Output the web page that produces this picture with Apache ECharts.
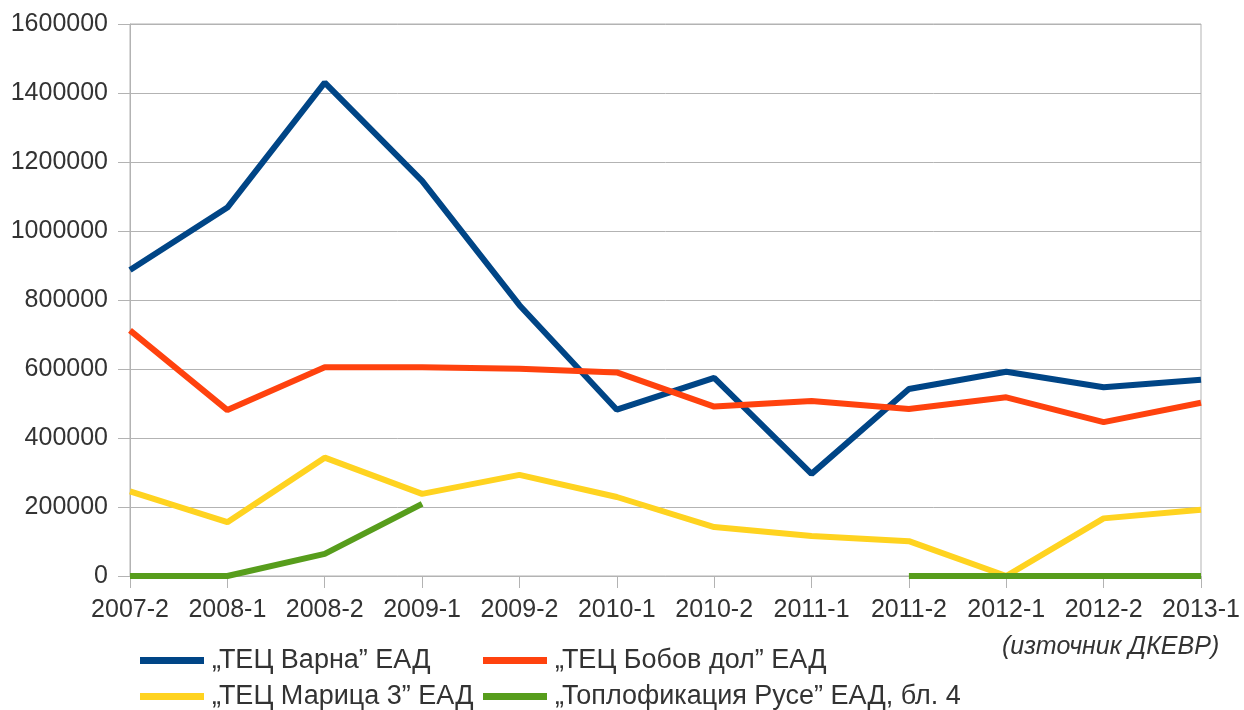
<!DOCTYPE html>
<html>
<head>
<meta charset="utf-8">
<script src="https://cdn.jsdelivr.net/npm/echarts@6/dist/echarts.min.js"></script>
<style>
  html, body { margin: 0; padding: 0; background: #fff; }
  #chart { width: 1244px; height: 710px; }
</style>
</head>
<body>
<div id="chart"></div>
<script>
const periods = ['2007-2', '2008-1', '2008-2', '2009-1', '2009-2', '2010-1', '2010-2', '2011-1', '2011-2', '2012-1', '2012-2', '2013-1'];

const varna = [887000, 1068000, 1430000, 1145000, 785000, 482000, 574000, 296000, 542000, 592000, 547000, 569000];
const bobovDol = [712000, 481000, 605000, 605000, 601000, 590000, 491000, 507000, 484000, 518000, 446000, 502000];
const maritsa3 = [245000, 156000, 343000, 238000, 293000, 229000, 142000, 116000, 101000, 0, 167000, 192000];
const ruse = [0, 0, 64000, 209000, null, null, null, null, 0, 0, 0, 0];

const names = ['„ТЕЦ Варна” ЕАД', '„ТЕЦ Бобов дол” ЕАД', '„ТЕЦ Марица 3” ЕАД', '„Топлофикация Русе” ЕАД, бл. 4'];
const colors = ['#004586', '#ff420e', '#ffd320', '#579d1c'];

const font = 'Liberation Sans, Arial, sans-serif';
const gridColor = '#b3b3b3';

function line(name, data, color) {
  return {
    name: name,
    type: 'line',
    data: data,
    symbol: 'none',
    connectNulls: false,
    itemStyle: { color: color },
    lineStyle: { color: color, width: 6 }
  };
}

// one legend per entry so the two columns line up like the original
function legendAt(name, left, top) {
  return {
    left: left,
    top: top,
    data: [name],
    icon: 'rect',
    itemWidth: 64,
    itemHeight: 7,
    padding: 0,
    textStyle: { fontFamily: font, fontSize: 27, color: '#333', padding: [0, 0, 0, 3] }
  };
}

const option = {
  animation: false,
  grid: {
    left: 130, right: 43, top: 24, bottom: 134,
    outerBoundsMode: 'none',
    containLabel: false,
    show: true, borderColor: gridColor, borderWidth: 1
  },
  legend: [
    legendAt(names[0], 140, 647),
    legendAt(names[2], 140, 683),
    legendAt(names[1], 483, 647),
    legendAt(names[3], 483, 683)
  ],
  graphic: [{
    type: 'text',
    left: 1002,
    top: 635,
    style: {
      text: '(източник ДКЕВР)',
      font: 'italic 25px ' + font,
      fill: '#333'
    }
  }],
  xAxis: {
    type: 'category',
    boundaryGap: false,
    data: periods,
    axisLine: { lineStyle: { color: gridColor } },
    axisTick: { show: true, length: 12, interval: 0, lineStyle: { color: gridColor } },
    axisLabel: { interval: 0, margin: 22, fontFamily: font, fontSize: 25, color: '#333' },
    splitLine: { show: false }
  },
  yAxis: {
    type: 'value',
    min: 0,
    max: 1600000,
    interval: 200000,
    axisLine: { show: true, lineStyle: { color: gridColor } },
    axisTick: { show: true, length: 12, lineStyle: { color: gridColor } },
    axisLabel: {
      margin: 22, fontFamily: font, fontSize: 25, color: '#333',
      formatter: function (v) { return String(v); }
    },
    splitLine: { lineStyle: { color: gridColor } }
  },
  series: [
    line(names[0], varna, colors[0]),
    line(names[1], bobovDol, colors[1]),
    line(names[2], maritsa3, colors[2]),
    line(names[3], ruse, colors[3])
  ]
};

const chart = echarts.init(document.getElementById('chart'));
chart.setOption(option);
</script>
</body>
</html>
